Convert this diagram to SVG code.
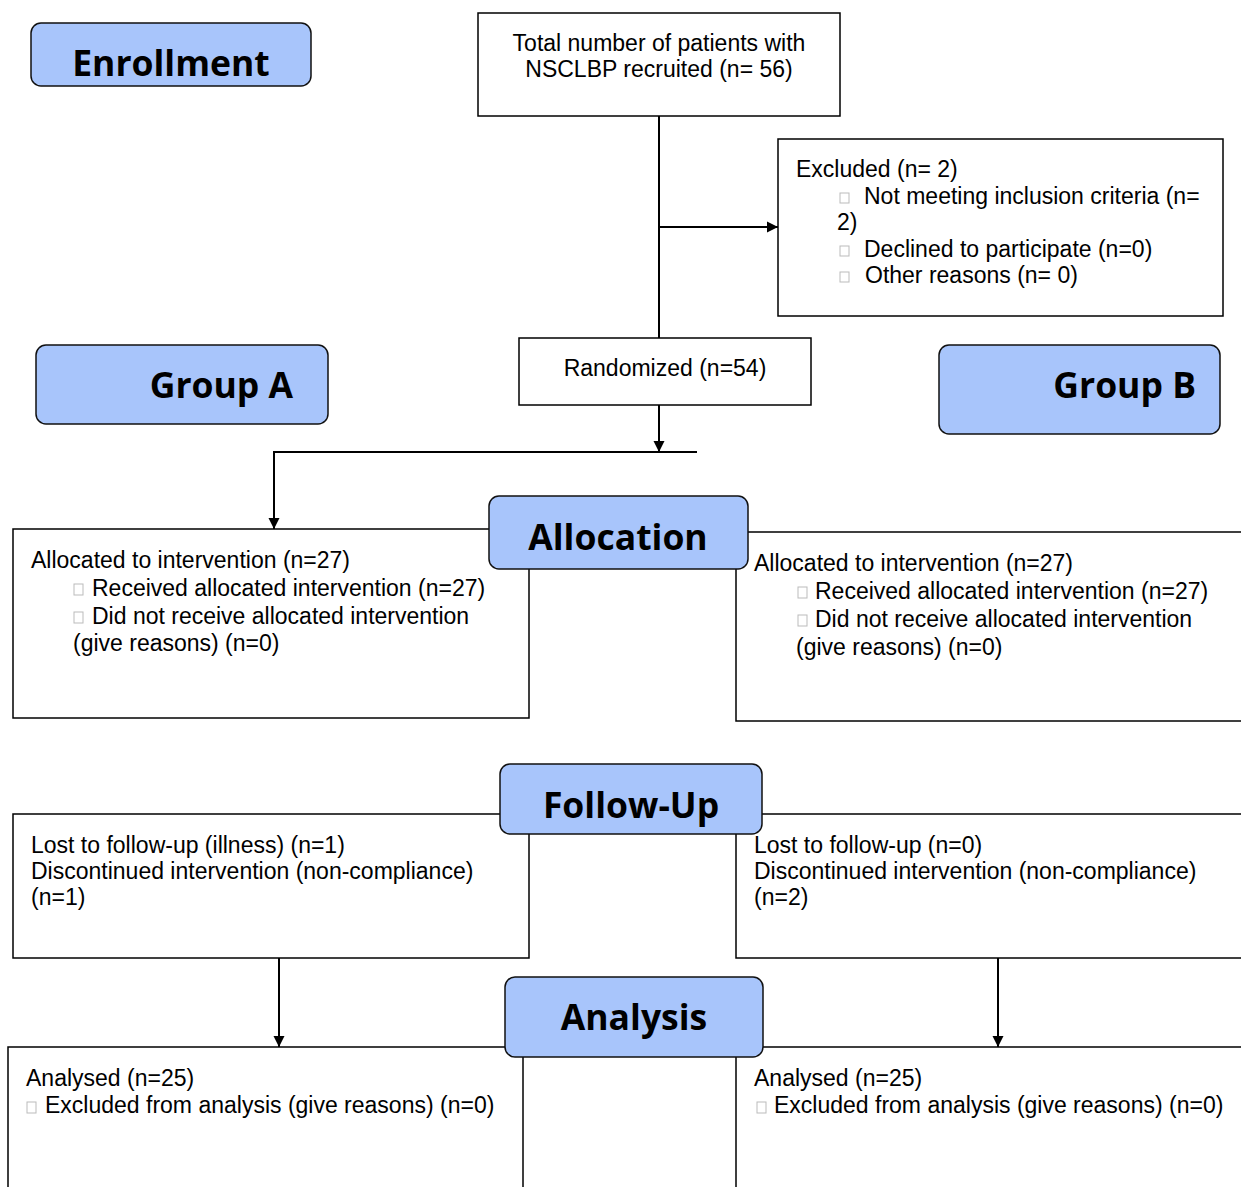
<svg xmlns="http://www.w3.org/2000/svg" width="1241" height="1187" viewBox="0 0 1241 1187">
<style>
.box{fill:#fff;stroke:#000;stroke-width:1.5}
.hdr{fill:#a8c5fb;stroke:#111;stroke-width:1.5}
.ht{font-family:"Open Sans","Noto Sans",sans-serif;font-weight:bold;font-size:35.5px;fill:#000}
.t{font-family:"Liberation Sans",Arial,sans-serif;font-size:23px;fill:#000}
.b{fill:#fff;stroke:#bbb;stroke-width:1}
.ln{fill:none;stroke:#000;stroke-width:2}
</style>
<defs>
<marker id="ah" viewBox="0 0 10 10" refX="10" refY="5" markerWidth="12" markerHeight="11" markerUnits="userSpaceOnUse" orient="auto" style="overflow:visible">
<path d="M0,0 L10,5 L0,10 z" fill="#000"/>
</marker>
</defs>
<rect width="1241" height="1187" fill="#fff"/>

<g id="connectors">
<line class="ln" x1="659" y1="116" x2="659" y2="338"/>
<line class="ln" x1="659" y1="227" x2="778" y2="227" marker-end="url(#ah)"/>
<line class="ln" x1="659" y1="405" x2="659" y2="452" marker-end="url(#ah)"/>
<polyline class="ln" points="697,452 274,452 274,529" marker-end="url(#ah)"/>
<line class="ln" x1="279" y1="958" x2="279" y2="1047" marker-end="url(#ah)"/>
<line class="ln" x1="998" y1="958" x2="998" y2="1047" marker-end="url(#ah)"/>
</g>

<g id="total">
<rect class="box" x="478" y="13" width="362" height="103"/>
<text class="t" x="659" y="51" text-anchor="middle">Total number of patients with</text>
<text class="t" x="659" y="77" text-anchor="middle">NSCLBP recruited (n= 56)</text>
</g>

<g id="excluded">
<rect class="box" x="778" y="139" width="445" height="177"/>
<text class="t" x="796" y="177">Excluded (n= 2)</text>
<rect class="b" x="840" y="193" width="9" height="10"/>
<text class="t" x="864" y="204">Not meeting inclusion criteria (n=</text>
<text class="t" x="837" y="230">2)</text>
<rect class="b" x="840" y="246" width="9" height="10"/>
<text class="t" x="864" y="257">Declined to participate (n=0)</text>
<rect class="b" x="840" y="272" width="9" height="10"/>
<text class="t" x="865" y="283">Other reasons (n= 0)</text>
</g>

<g id="randomized">
<rect class="box" x="519" y="338" width="292" height="67"/>
<text class="t" x="665" y="376" text-anchor="middle">Randomized (n=54)</text>
</g>

<g id="allocA">
<rect class="box" x="13" y="529" width="516" height="189"/>
<text class="t" x="31" y="568">Allocated to intervention (n=27)</text>
<rect class="b" x="74" y="584" width="9" height="11"/>
<text class="t" x="92" y="596">Received allocated intervention (n=27)</text>
<rect class="b" x="74" y="612" width="9" height="11"/>
<text class="t" x="92" y="624">Did not receive allocated intervention</text>
<text class="t" x="73" y="651">(give reasons) (n=0)</text>
</g>

<g id="allocB">
<rect class="box" x="736" y="532" width="520" height="189"/>
<text class="t" x="754" y="571">Allocated to intervention (n=27)</text>
<rect class="b" x="798" y="587" width="9" height="11"/>
<text class="t" x="815" y="599">Received allocated intervention (n=27)</text>
<rect class="b" x="798" y="615" width="9" height="11"/>
<text class="t" x="815" y="627">Did not receive allocated intervention</text>
<text class="t" x="796" y="655">(give reasons) (n=0)</text>
</g>

<g id="followA">
<rect class="box" x="13" y="814" width="516" height="144"/>
<text class="t" x="31" y="853">Lost to follow-up (illness) (n=1)</text>
<text class="t" x="31" y="879">Discontinued intervention (non-compliance)</text>
<text class="t" x="31" y="905">(n=1)</text>
</g>

<g id="followB">
<rect class="box" x="736" y="814" width="520" height="144"/>
<text class="t" x="754" y="853">Lost to follow-up (n=0)</text>
<text class="t" x="754" y="879">Discontinued intervention (non-compliance)</text>
<text class="t" x="754" y="905">(n=2)</text>
</g>

<g id="analysisA">
<rect class="box" x="8" y="1047" width="515" height="160"/>
<text class="t" x="26" y="1086">Analysed (n=25)</text>
<rect class="b" x="27" y="1102" width="9" height="11"/>
<text class="t" x="45" y="1113">Excluded from analysis (give reasons) (n=0)</text>
</g>

<g id="analysisB">
<rect class="box" x="736" y="1047" width="520" height="160"/>
<text class="t" x="754" y="1086">Analysed (n=25)</text>
<rect class="b" x="757" y="1102" width="9" height="11"/>
<text class="t" x="774" y="1113">Excluded from analysis (give reasons) (n=0)</text>
</g>

<g id="enrollment">
<rect class="hdr" x="31" y="23" width="280" height="63" rx="10"/>
<text class="ht" x="171" y="76" text-anchor="middle">Enrollment</text>
</g>

<g id="groupA">
<rect class="hdr" x="36" y="345" width="292" height="79" rx="10"/>
<text class="ht" x="293" y="398" text-anchor="end">Group A</text>
</g>

<g id="groupB">
<rect class="hdr" x="939" y="345" width="281" height="89" rx="10"/>
<text class="ht" x="1196" y="398" text-anchor="end">Group B</text>
</g>

<g id="allocation">
<rect class="hdr" x="489" y="496" width="259" height="73" rx="10"/>
<text class="ht" x="618" y="550" text-anchor="middle">Allocation</text>
</g>

<g id="followup">
<rect class="hdr" x="500" y="764" width="262" height="70" rx="10"/>
<text class="ht" x="631" y="818" text-anchor="middle">Follow-Up</text>
</g>

<g id="analysis">
<rect class="hdr" x="505" y="977" width="258" height="80" rx="10"/>
<text class="ht" x="634" y="1030" text-anchor="middle">Analysis</text>
</g>
</svg>
